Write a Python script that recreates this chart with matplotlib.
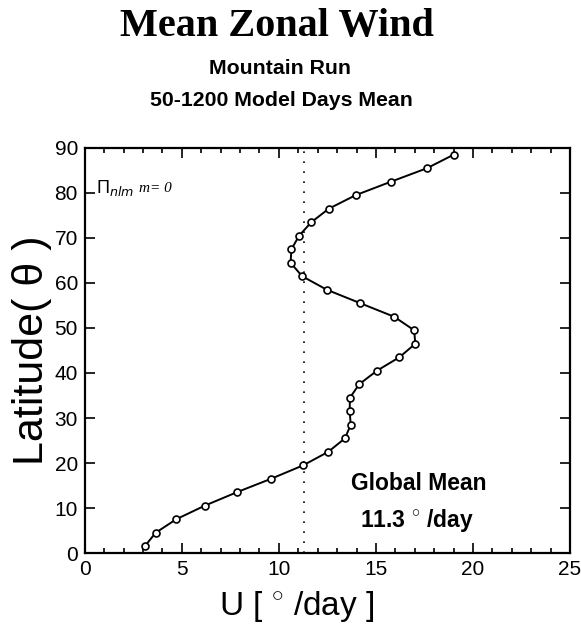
import numpy as np
import matplotlib
matplotlib.use('Agg')
import matplotlib.pyplot as plt
from matplotlib.ticker import MultipleLocator

# latitude of each grid row and the mean zonal wind there
latitude = [1.5, 4.5, 7.5, 10.5, 13.5, 16.5, 19.5, 22.5, 25.5, 28.5,
            31.5, 34.5, 37.5, 40.5, 43.5, 46.5, 49.5, 52.5, 55.5, 58.5,
            61.5, 64.5, 67.5, 70.5, 73.5, 76.5, 79.5, 82.5, 85.5, 88.5]
wind = [3.09, 3.65, 4.71, 6.17, 7.83, 9.60, 11.26, 12.55, 13.41, 13.70,
        13.65, 13.66, 14.14, 15.05, 16.21, 17.03, 16.97, 15.94, 14.20, 12.47,
        11.20, 10.60, 10.65, 11.04, 11.67, 12.57, 13.95, 15.77, 17.63, 19.0]
globalMean = 11.3

sans = ['Liberation Sans', 'DejaVu Sans']
serif = ['Liberation Serif', 'DejaVu Serif']
plt.rcParams['font.family'] = sans
plt.rcParams['mathtext.fontset'] = 'custom'
plt.rcParams['mathtext.rm'] = 'Liberation Sans'

fig = plt.figure(figsize=(5.81, 6.27), dpi=100)
ax = fig.add_axes([0.146, 0.118, 0.835, 0.646])

ax.plot(wind, latitude, '-o', color='black', lw=1.4, ms=5,
        mfc='white', mec='black', mew=1.2)
ax.axvline(globalMean, color='black', lw=1.2, linestyle=(0, (1, 5)))

ax.set_xlim(0, 25)
ax.set_ylim(0, 90)
ax.xaxis.set_major_locator(MultipleLocator(5))
ax.xaxis.set_minor_locator(MultipleLocator(1))
ax.yaxis.set_major_locator(MultipleLocator(10))
ax.tick_params(which='both', direction='in', top=True, right=True,
               labelsize=15, width=1.2, pad=5)
ax.tick_params(which='major', length=7)
ax.tick_params(which='minor', length=3.5)
for s in ax.spines.values():
    s.set_linewidth(1.6)

ax.set_xlabel(r'U [ $^{\circ}$ /day ]', fontsize=24)
ax.xaxis.set_label_coords(0.437, -0.088)
ax.set_ylabel('Latitude( θ )', fontsize=31, labelpad=2)

ax.text(0.6, 81, r'$\Pi_{nlm}$', fontsize=13, family=serif, va='center')
ax.text(2.8, 81, 'm= 0', fontsize=11, family=serif, style='italic',
        va='center')
ax.text(17.2, 15.5, 'Global Mean', fontsize=16.5, fontweight='bold',
        ha='center', va='center')
ax.text(17.1, 7.3, r'11.3 $^{\circ}$ /day', fontsize=16.5, fontweight='bold',
        ha='center', va='center')

fig.text(0.477, 0.958, 'Mean Zonal Wind', fontsize=29, fontweight='bold',
         family=serif, ha='center', va='center')
fig.text(0.482, 0.891, 'Mountain Run', fontsize=15.3, fontweight='bold',
         ha='center', va='center')
fig.text(0.484, 0.839, '50-1200 Model Days Mean', fontsize=15.3,
         fontweight='bold', ha='center', va='center')

fig.savefig('out.png', dpi=100)
